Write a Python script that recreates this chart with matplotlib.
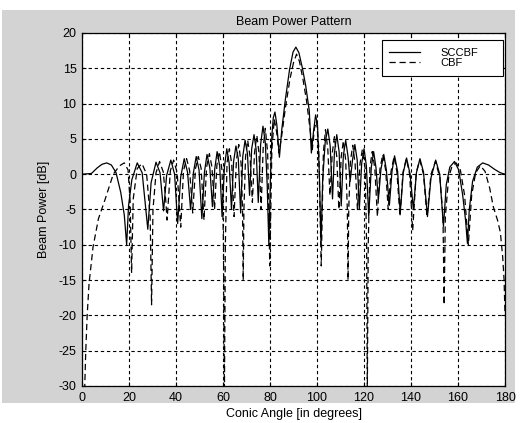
import matplotlib
matplotlib.use("Agg")
import matplotlib.pyplot as plt
from matplotlib.patches import Rectangle

plt.rcParams['font.family'] = ['Liberation Sans', 'DejaVu Sans']
plt.rcParams['axes.unicode_minus'] = False

# SCCBF (solid): angle [deg], power [dB]
sccbf_deg = [0, 4, 6.5, 8.5, 10.5, 12.5, 14.5, 16.5, 18.0, 19.0, 19.8, 21.2, 23.5, 25.6,
             28.0, 29.4, 31.5, 33.2, 34.7, 36.0, 37.8, 39.4, 40.7, 42.0, 43.5, 44.9,
             46.2, 47.4, 48.6, 49.8, 51.0, 52.1, 53.2, 54.4, 55.5, 56.5, 57.5, 58.6,
             59.6, 60.6, 61.6, 62.6, 63.6, 64.5, 65.5, 66.5, 67.5, 68.4, 69.4, 70.4,
             71.3, 72.2, 73.2, 74.1, 75.0, 76.0, 77.0, 78.0, 78.8, 79.5, 80.2, 80.8,
             81.4, 82.1, 82.9, 84.0, 85.0, 86.5, 88.3, 89.8, 91.0, 92.3, 93.8, 95.2,
             96.7, 97.6, 98.5, 99.4, 100.2, 101.0, 101.7, 102.4, 103.5, 104.6, 105.6,
             106.6, 107.4, 108.4, 109.4, 110.3, 111.2, 112.2, 113.2, 114.1, 115.1,
             116.1, 117.1, 118.0, 119.0, 120.0, 121.0, 122.0, 123.1, 124.1, 125.1,
             126.1, 127.2, 128.4, 129.5, 130.8, 131.9, 133.0, 134.3, 135.4, 136.7,
             138.1, 139.6, 141.0, 142.3, 143.8, 145.3, 147.0, 148.5, 150.5, 152.2,
             153.8, 155.0, 156.5, 158.5, 160.3, 162.0, 163.2, 164.0, 164.8, 166.2,
             168.2, 170.5, 173.0, 175.5, 178.0, 180.0]
sccbf_db = [0.0, 0.1, 0.9, 1.4, 1.6, 1.3, 0.2, -2.6, -5.8, -10.0, -4.5, -0.8, 1.6, 0.2,
            -7.8, -1.2, 1.7, 0.2, -5.2, -0.2, 2.0, 0.0, -7.0, -0.4, 2.2, 0.3,
            -5.0, 0.2, 2.5, 0.6, -6.3, 0.3, 2.8, 0.9, -4.6, 0.8, 3.2, 1.1,
            -6.0, 1.0, 3.6, 1.6, -5.0, 1.8, 4.0, 2.2, -5.5, 2.5, 4.8, 2.9,
            -3.0, 3.6, 5.6, 3.5, -4.0, 4.2, 6.8, 4.5, -1.5, -10.0, -0.5, 5.5,
            8.0, 8.8, 7.0, 2.4, 6.3, 10.5, 14.8, 17.3, 18.0, 17.2, 15.0, 12.5,
            9.0, 3.0, 6.0, 8.4, 7.0, 0.0, -10.0, -0.8, 4.6, 6.4, 4.0,
            -3.5, 3.0, 5.6, 3.2, -4.5, 2.6, 4.8, 2.5, -1.0, 2.0,
            4.2, 2.0, -5.0, 1.5, 3.6, 1.2, -6.0, 1.0, 3.2, 0.9,
            -3.6, 0.7, 2.8, 0.6, -4.4, 0.4, 2.6, 0.4, -5.5, 0.2,
            2.3, 0.0, -5.0, 0.2, 2.2, 0.3, -6.0, -0.5, 2.0, 0.0,
            -7.4, -1.5, 1.0, 1.8, 0.6, -3.0, -6.5, -9.8, -5.0, -1.0,
            1.0, 1.6, 1.3, 0.7, 0.2, 0.0]

# CBF (dashed)
cbf_deg = [1.0, 1.6, 2.2, 3.0, 4.7, 7.0, 9.8, 13.3, 16.0, 18.0, 19.6, 20.5, 21.1, 21.8,
           23.5, 25.5, 27.5, 29.0, 29.6, 30.2, 31.5, 33.0, 34.6, 35.7, 36.2, 37.6,
           39.0, 40.5, 42.0, 43.2, 44.5, 45.8, 47.1, 48.3, 49.5, 50.7, 51.9, 53.0,
           54.2, 55.3, 56.4, 57.4, 58.5, 59.6, 60.2, 60.6, 61.0, 61.7, 62.7, 63.7,
           64.7, 65.7, 66.7, 67.7, 68.3, 68.6, 68.9, 69.6, 70.5, 71.5, 72.5, 73.4,
           74.4, 75.3, 76.2, 77.1, 78.0, 79.0, 79.9, 80.8, 81.8, 82.8, 83.8, 85.0,
           86.6, 88.5, 90.0, 91.3, 92.5, 94.0, 95.5, 97.0, 98.0, 98.9, 99.8, 100.7,
           101.8, 102.7, 103.6, 104.6, 105.5, 106.5, 107.4, 108.4, 109.3, 110.3,
           111.2, 112.2, 112.9, 113.2, 113.5, 114.2, 115.2, 116.2, 117.2, 118.3,
           119.3, 120.5, 121.1, 121.4, 121.8, 122.5, 123.5, 124.6, 125.7, 126.8,
           128.0, 129.2, 130.3, 131.5, 132.8, 134.0, 135.3, 136.6, 138.0, 139.4,
           140.7, 142.2, 143.7, 145.3, 146.8, 148.5, 150.4, 152.3, 153.6, 154.1,
           154.6, 156.0, 157.5, 159.2, 161.0, 162.8, 164.4, 165.8, 167.5, 169.5,
           171.5, 173.5, 175.0, 176.8, 178.0, 179.0, 179.6, 180.0]
cbf_db = [-32.0, -25.0, -20.0, -15.5, -10.3, -6.3, -3.6, 0.0, 1.2, 1.6, 0.6, -4.0, -14.0, -3.5,
          0.8, 1.5, 0.0, -6.0, -18.5, -5.0, 0.2, 1.8, 0.3, -4.0, -6.5, 0.5,
          2.0, 0.2, -7.5, 0.5, 2.2, 0.5, -5.5, 0.8, 2.5, 0.8, -6.5, 1.0,
          2.9, 1.0, -5.0, 1.3, 3.2, 0.5, -10.0, -31.0, -10.0, 1.6, 3.6, 1.5,
          -6.0, 2.0, 4.2, 1.5, -5.0, -15.0, -5.0, 2.5, 4.8, 2.5, -4.0, 3.0,
          5.5, 3.0, -5.0, 3.8, 6.5, 3.0, -13.0, 3.5, 7.8, 6.0, 3.0, 5.5,
          9.5, 13.5, 15.8, 17.0, 16.0, 13.5, 10.5, 6.5, 3.5, 6.5, 7.5, 4.0,
          -13.0, 3.0, 6.3, 3.5, -3.0, 3.0, 5.3, 2.5, -5.0, 2.5,
          4.7, 2.0, -5.0, -15.0, -5.0, 1.8, 4.1, 1.5, -5.0, 1.5,
          3.5, 0.8, -10.0, -31.0, -10.0, 1.0, 3.2, 0.8, -6.0, 0.8,
          2.8, 0.6, -5.0, 0.4, 2.5, 0.3, -6.0, 0.3, 2.2, 0.0,
          -8.0, 0.2, 2.0, 0.0, -6.0, 0.0, 1.8, -0.5, -6.0, -18.5,
          -6.0, -0.5, 1.2, 1.6, 0.6, -3.0, -10.0, -3.0, 0.2, 1.2,
          0.4, -2.0, -4.6, -6.5, -8.2, -11.7, -15.0, -20.0]

x_ticks = list(range(0, 181, 20))
y_ticks = list(range(-30, 21, 5))

fig = plt.figure(figsize=(5.27, 4.23), dpi=100, facecolor='white')
# grey scanned page behind the plot
bg = Rectangle((0.004, 0.047), 0.973, 0.929, transform=fig.transFigure,
               facecolor='#d3d3d3', edgecolor='none', zorder=-10)
fig.add_artist(bg)

ax = fig.add_axes([0.1556, 0.0875, 0.8027, 0.8345])
ax.set_facecolor('white')

ax.plot(sccbf_deg, sccbf_db, color='black', lw=0.9, label='SCCBF')
ax.plot(cbf_deg, cbf_db, color='black', lw=0.9, linestyle=(0, (5, 3)), label='CBF')

ax.set_xlim(0, 180)
ax.set_ylim(-30, 20)
ax.set_xticks(x_ticks)
ax.set_yticks(y_ticks)
ax.grid(True, color='black', linestyle=(0, (3, 2.5)), linewidth=0.8)
ax.set_axisbelow(True)
ax.tick_params(direction='in', length=3, top=True, right=True, labelsize=9, pad=4)
for s in ax.spines.values():
    s.set_linewidth(0.9)

ax.set_title('Beam Power Pattern', fontsize=9, pad=6)
ax.set_xlabel('Conic Angle [in degrees]', fontsize=9, labelpad=3)
ax.set_ylabel('Beam Power [dB]', fontsize=9, labelpad=6)

leg = ax.legend(loc='upper left', bbox_to_anchor=(0.708, 0.98, 0.287, 0.0), mode='expand',
                borderaxespad=0, fontsize=8, handlelength=2.8, handletextpad=1.8,
                labelspacing=0.0, borderpad=0.7, fancybox=False, framealpha=1,
                edgecolor='black')
leg.get_frame().set_linewidth(0.8)

fig.savefig('out.png', dpi=100, facecolor=fig.get_facecolor())
